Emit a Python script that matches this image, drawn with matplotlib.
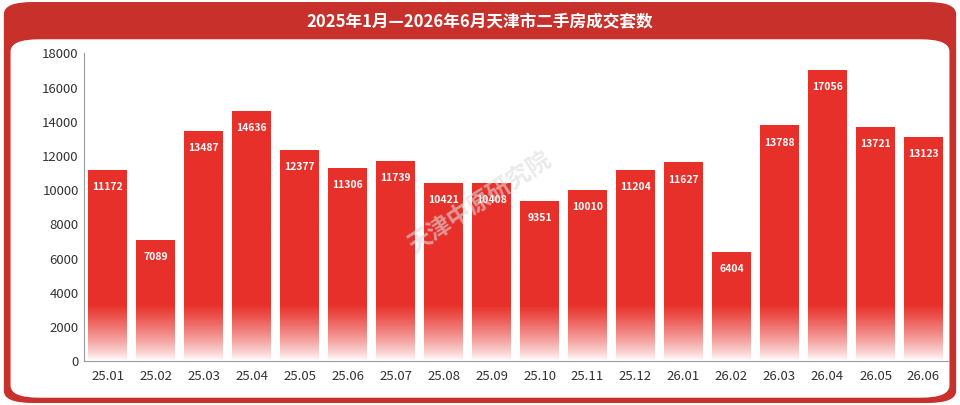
import matplotlib.pyplot as plt
import numpy as np
from matplotlib.patches import FancyBboxPatch
from matplotlib.colors import LinearSegmentedColormap

plt.rcParams['font.family'] = ['Noto Sans CJK SC', 'DejaVu Sans']

months = ['25.01', '25.02', '25.03', '25.04', '25.05', '25.06', '25.07', '25.08', '25.09',
          '25.10', '25.11', '25.12', '26.01', '26.02', '26.03', '26.04', '26.05', '26.06']
volumes = [11172, 7089, 13487, 14636, 12377, 11306, 11739, 10421, 10408,
           9351, 10010, 11204, 11627, 6404, 13788, 17056, 13721, 13123]
title = '2025年1月—2026年6月天津市二手房成交套数'

red = '#e8302a'
fig = plt.figure(figsize=(9.6, 4.05), dpi=100)
fig.patch.set_facecolor('white')
bg = FancyBboxPatch((0.004, 0.005), 0.992, 0.99, boxstyle='round,pad=0,rounding_size=0.03',
                    transform=fig.transFigure, facecolor='#c8302b', edgecolor='none', zorder=-10)
fig.patches.append(bg)
panel = FancyBboxPatch((0.011, 0.018), 0.978, 0.885, boxstyle='round,pad=0,rounding_size=0.03',
                       transform=fig.transFigure, facecolor='white', edgecolor='none', zorder=-9)
fig.patches.append(panel)
fig.text(0.5, 0.945, title, ha='center', va='center', color='white', fontsize=12, fontweight='bold')

ax = fig.add_axes([0.087, 0.108, 0.9, 0.76])
ax.set_facecolor('none')
x = np.arange(len(months))
bars = ax.bar(x, volumes, width=0.8, color='none')

cmap = LinearSegmentedColormap.from_list('fade', ['white', red])
grad = np.clip(np.linspace(0, 1, 256) / 0.18, 0, 1).reshape(-1, 1) ** 0.8
for b, v in zip(bars, volumes):
    im = ax.imshow(grad, cmap=cmap, aspect='auto', origin='lower',
                   extent=[b.get_x(), b.get_x() + b.get_width(), 0, 18000], zorder=2)
    im.set_clip_path(b)
    ax.text(b.get_x() + b.get_width() / 2, v - 1000, str(v), ha='center', va='center',
            color='white', fontsize=7.5, fontweight='bold', zorder=3)

ax.set_xlim(-0.5, len(months) - 0.5)
ax.set_ylim(0, 18000)
ax.set_yticks(range(0, 18001, 2000))
ax.set_xticks(x)
ax.set_xticklabels(months)
ax.tick_params(labelsize=9.5, colors='#333333', length=0)
ax.tick_params(axis='x', pad=6)
for s in ['top', 'right']:
    ax.spines[s].set_visible(False)
for s in ['left', 'bottom']:
    ax.spines[s].set_color('#999999')

fig.text(0.5, 0.5, '天津中原研究院', ha='center', va='center', rotation=33,
         fontsize=17, fontweight='bold', color='#dddddd', alpha=0.6, zorder=5)

fig.savefig('out.png', dpi=100)
